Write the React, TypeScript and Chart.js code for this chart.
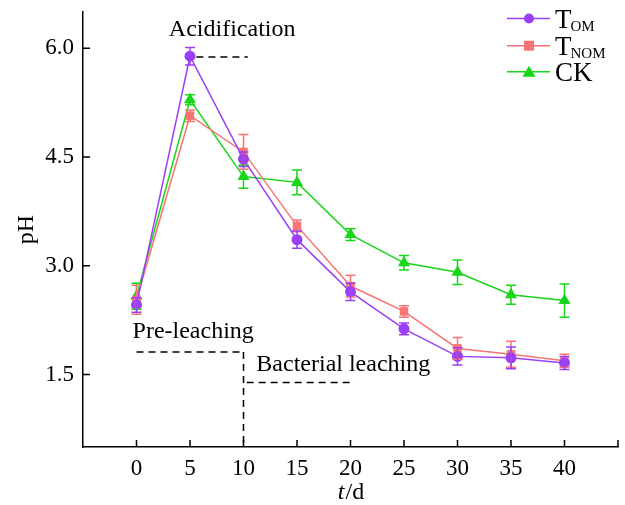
import React, { useEffect, useRef } from "react";
import { Chart, registerables } from "chart.js";

Chart.register(...registerables);

const days = [0, 5, 10, 15, 20, 25, 30, 35, 40];
const tomValues = [2.46, 5.89, 4.47, 3.36, 2.64, 2.13, 1.75, 1.73, 1.66];
const tomErrors = [0.1, 0.12, 0.1, 0.12, 0.12, 0.08, 0.12, 0.15, 0.09];
const tnomValues = [2.53, 5.07, 4.57, 3.55, 2.72, 2.37, 1.86, 1.78, 1.69];
const tnomErrors = [0.2, 0.08, 0.24, 0.08, 0.15, 0.08, 0.15, 0.18, 0.09];
const ckValues = [2.58, 5.29, 4.23, 4.15, 3.43, 3.04, 2.91, 2.6, 2.52];
const ckErrors = [0.18, 0.07, 0.16, 0.17, 0.08, 0.1, 0.17, 0.13, 0.23];
const xTicks = [0, 5, 10, 15, 20, 25, 30, 35, 40];
const yTicks = [1.5, 3.0, 4.5, 6.0];

const PURPLE = "#9a3ff5";
const RED = "#f77474";
const GREEN = "#1ad61a";
const FONT = "'Liberation Serif', 'DejaVu Serif', serif";

const errorsByDataset = [tomErrors, tnomErrors, ckErrors];

const errorBarPlugin = {
  id: "errorBars",
  afterDatasetsDraw(chart: any) {
    const ctx = chart.ctx;
    const xs = chart.scales.x;
    const ys = chart.scales.y;
    for (let di = chart.data.datasets.length - 1; di >= 0; di--) {
      const ds = chart.data.datasets[di];
      const errs = errorsByDataset[di];
      ctx.save();
      ctx.strokeStyle = ds.borderColor;
      ctx.lineWidth = 1.5;
      ds.data.forEach((p: any, i: number) => {
        const x = xs.getPixelForValue(p.x);
        const yt = ys.getPixelForValue(p.y + errs[i]);
        const yb = ys.getPixelForValue(p.y - errs[i]);
        ctx.beginPath();
        ctx.moveTo(x, yt);
        ctx.lineTo(x, yb);
        ctx.moveTo(x - 5, yt);
        ctx.lineTo(x + 5, yt);
        ctx.moveTo(x - 5, yb);
        ctx.lineTo(x + 5, yb);
        ctx.stroke();
      });
      ctx.restore();
    }
  },
};

const decorPlugin = {
  id: "decor",
  afterDraw(chart: any) {
    const ctx = chart.ctx;
    const xs = chart.scales.x;
    const ys = chart.scales.y;
    const ca = chart.chartArea;
    const X = (v: number) => xs.getPixelForValue(v);
    const Y = (v: number) => ys.getPixelForValue(v);
    ctx.save();
    // inward ticks
    ctx.strokeStyle = "#000";
    ctx.lineWidth = 1.5;
    ctx.beginPath();
    [...xTicks, 45].forEach((t) => {
      const x = X(t);
      ctx.moveTo(x, ca.bottom);
      ctx.lineTo(x, ca.bottom - 7);
    });
    yTicks.forEach((t) => {
      const y = Y(t);
      ctx.moveTo(ca.left, y);
      ctx.lineTo(ca.left + 7, y);
    });
    ctx.stroke();

    // dashed annotation lines
    ctx.setLineDash([7, 5]);
    ctx.lineWidth = 1.5;
    ctx.beginPath();
    ctx.moveTo(X(5.6), Y(5.88));
    ctx.lineTo(X(10.4), Y(5.88));
    ctx.moveTo(X(0), Y(1.81));
    ctx.lineTo(X(10), Y(1.81));
    ctx.moveTo(X(10), Y(1.81));
    ctx.lineTo(X(10), ca.bottom);
    ctx.moveTo(X(10.3), Y(1.39));
    ctx.lineTo(X(20.4), Y(1.39));
    ctx.stroke();
    ctx.setLineDash([]);

    // annotation text
    ctx.fillStyle = "#000";
    ctx.font = `24px ${FONT}`;
    ctx.textBaseline = "alphabetic";
    ctx.textAlign = "center";
    ctx.fillText("Acidification", X(8.94), Y(6.165));
    ctx.textAlign = "left";
    ctx.fillText("Pre-leaching", X(-0.37), Y(2.005));
    ctx.fillText("Bacterial leaching", X(11.2), Y(1.545));

    // axis titles
    ctx.save();
    ctx.translate(27, (ca.top + ca.bottom) / 2);
    ctx.rotate(-Math.PI / 2);
    ctx.textAlign = "center";
    ctx.textBaseline = "middle";
    ctx.font = `24px ${FONT}`;
    ctx.fillText("pH", 0, 0);
    ctx.restore();

    const cx = (ca.left + ca.right) / 2;
    ctx.font = `italic 24px ${FONT}`;
    const w1 = ctx.measureText("t").width;
    ctx.font = `24px ${FONT}`;
    const w2 = ctx.measureText("/d").width;
    const sx = cx - (w1 + w2) / 2;
    ctx.textAlign = "left";
    ctx.font = `italic 24px ${FONT}`;
    ctx.fillText("t", sx, 499);
    ctx.font = `24px ${FONT}`;
    ctx.fillText("/d", sx + w1 + 1, 499);

    // legend
    const rows = [
      { main: "T", sub: "OM", color: PURPLE, shape: "circle" },
      { main: "T", sub: "NOM", color: RED, shape: "rect" },
      { main: "CK", sub: "", color: GREEN, shape: "triangle" },
    ];
    const rowY = [18.5, 45.7, 71.7];
    rows.forEach((r, i) => {
      const y = rowY[i];
      ctx.strokeStyle = r.color;
      ctx.fillStyle = r.color;
      ctx.lineWidth = 1.5;
      ctx.beginPath();
      ctx.moveTo(507, y);
      ctx.lineTo(550, y);
      ctx.stroke();
      ctx.beginPath();
      if (r.shape === "circle") {
        ctx.arc(529, y, 5, 0, Math.PI * 2);
      } else if (r.shape === "rect") {
        ctx.rect(524, y - 5, 10, 10);
      } else {
        ctx.moveTo(529, y - 6);
        ctx.lineTo(535.5, y + 5);
        ctx.lineTo(522.5, y + 5);
        ctx.closePath();
      }
      ctx.fill();
      ctx.fillStyle = "#000";
      ctx.textAlign = "left";
      ctx.textBaseline = "alphabetic";
      ctx.font = `27px ${FONT}`;
      ctx.fillText(r.main, 555, y + 9.5);
      if (r.sub) {
        const mw = ctx.measureText(r.main).width;
        ctx.font = `15px ${FONT}`;
        ctx.fillText(r.sub, 555 + mw - 1, y + 12.5);
      }
    });
    ctx.restore();
  },
};

export default function App() {
  const canvasRef = useRef<HTMLCanvasElement | null>(null);

  useEffect(() => {
    if (!canvasRef.current) return;
    const mk = (vals: number[]) => vals.map((v, i) => ({ x: days[i], y: v }));
    const chart = new Chart(canvasRef.current, {
      type: "line",
      data: {
        datasets: [
          {
            label: "TOM",
            data: mk(tomValues),
            borderColor: PURPLE,
            backgroundColor: PURPLE,
            pointStyle: "circle",
            pointRadius: 5.5,
            borderWidth: 1.5,
            pointBorderWidth: 0,
          },
          {
            label: "TNOM",
            data: mk(tnomValues),
            borderColor: RED,
            backgroundColor: RED,
            pointStyle: "rect",
            pointRadius: 6,
            borderWidth: 1.5,
            pointBorderWidth: 0,
          },
          {
            label: "CK",
            data: mk(ckValues),
            borderColor: GREEN,
            backgroundColor: GREEN,
            pointStyle: "triangle",
            pointRadius: 7,
            borderWidth: 1.5,
            pointBorderWidth: 0,
          },
        ],
      },
      options: {
        animation: false,
        responsive: false,
        layout: { padding: { top: 12, right: 0, left: 0, bottom: 0 } },
        plugins: { legend: { display: false }, tooltip: { enabled: false } },
        scales: {
          x: {
            type: "linear",
            min: -5,
            max: 45,
            afterBuildTicks: (s: any) => {
              s.ticks = xTicks.map((v) => ({ value: v }));
            },
            afterFit: (s: any) => {
              s.height = 58;
              s.paddingLeft = 0;
              s.paddingRight = 0;
            },
            grid: { display: false, drawTicks: false },
            border: { color: "#000", width: 1.5 },
            ticks: {
              padding: 8,
              color: "#000",
              font: { family: FONT, size: 23 },
              maxRotation: 0,
              autoSkip: false,
            },
          },
          y: {
            type: "linear",
            min: 0.5,
            max: 6.5,
            afterBuildTicks: (s: any) => {
              s.ticks = yTicks.map((v) => ({ value: v }));
            },
            afterFit: (s: any) => {
              s.width = 83;
              s.paddingTop = 0;
              s.paddingBottom = 0;
            },
            grid: { display: false, drawTicks: false },
            border: { color: "#000", width: 1.5 },
            ticks: {
              padding: 9,
              color: "#000",
              font: { family: FONT, size: 23 },
              callback: (v: any) => Number(v).toFixed(1),
            },
          },
        },
      },
      plugins: [errorBarPlugin, decorPlugin],
    });
    return () => chart.destroy();
  }, []);

  return (
    <div style={{ position: "absolute", left: 0, top: 0, width: 625, height: 505, background: "#fff" }}>
      <canvas ref={canvasRef} width={625} height={505} style={{ width: 625, height: 505 }} />
    </div>
  );
}
